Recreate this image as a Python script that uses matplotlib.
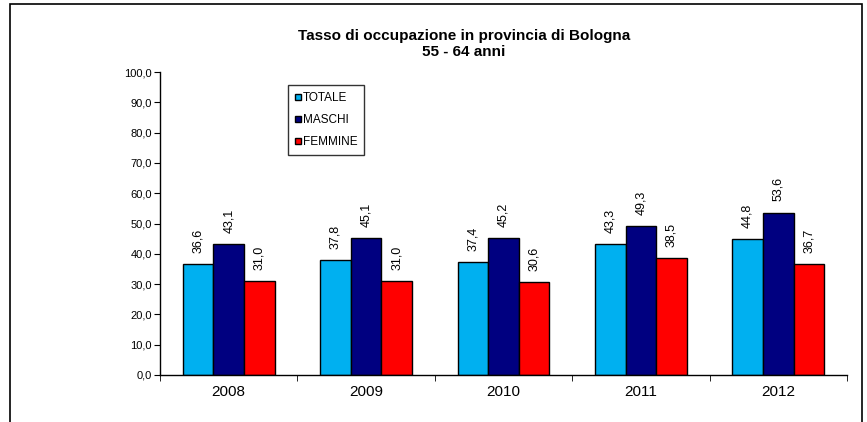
import matplotlib
matplotlib.use("Agg")
import matplotlib.pyplot as plt
from matplotlib.patches import Rectangle
import numpy as np

years = ["2008", "2009", "2010", "2011", "2012"]
totale = [36.6, 37.8, 37.4, 43.3, 44.8]
maschi = [43.1, 45.1, 45.2, 49.3, 53.6]
femmine = [31.0, 31.0, 30.6, 38.5, 36.7]
series_names = ["TOTALE", "MASCHI", "FEMMINE"]
colors = ["#00B0F0", "#000080", "#FF0000"]

plt.rcParams['font.family'] = ['Liberation Sans', 'DejaVu Sans']

W, H = 867, 422
fig = plt.figure(figsize=(W / 100, H / 100), dpi=100)

# outer frame of the chart area (bottom edge falls outside the image)
fig.patches.append(Rectangle((10 / W, -0.05), 852 / W, 1.05 - 4 / H,
                             transform=fig.transFigure, fill=False,
                             edgecolor='black', linewidth=1.2))

ax = fig.add_axes([160 / W, 1 - 375 / H, 687 / W, 303 / H])

x = np.arange(len(years))
bw = 0.223
for i, (vals, name, c) in enumerate(zip([totale, maschi, femmine], series_names, colors)):
    pos = x + (i - 1) * bw
    ax.bar(pos, vals, width=bw, color=c, edgecolor='black', linewidth=1, label=name)
    for xp, v in zip(pos, vals):
        ax.annotate(f"{v:.1f}".replace(".", ","), (xp, v), xytext=(0, 8),
                    textcoords='offset points', rotation=90, ha='center',
                    va='bottom', fontsize=9)

ax.set_xlim(-0.5, len(years) - 0.5)
ax.set_ylim(0, 100)
ax.set_yticks(np.arange(0, 101, 10))
ax.set_yticklabels([f"{v:.1f}".replace(".", ",") for v in np.arange(0, 101, 10)], fontsize=8)
ax.set_xticks(x)
ax.set_xticklabels(years, fontsize=11)
ax.set_xticks(np.arange(-0.5, len(years)), minor=True)
ax.tick_params(axis='x', which='major', length=0, pad=7)
ax.tick_params(axis='x', which='minor', length=4, direction='out')
ax.tick_params(axis='y', length=4, direction='out', pad=2)
ax.spines['top'].set_visible(False)
ax.spines['right'].set_visible(False)
ax.spines['left'].set_linewidth(1)
ax.spines['bottom'].set_linewidth(1)

leg = ax.legend(loc='upper left', bbox_to_anchor=(128 / 687, 1 - 13 / 303),
                fontsize=8.5, frameon=True, fancybox=False, edgecolor='black',
                handlelength=0.5, handleheight=0.5, handletextpad=0.15,
                labelspacing=0.85, borderpad=0.6, borderaxespad=0)
leg.get_frame().set_linewidth(1)

fig.text(464 / W, 1 - 36 / H, "Tasso di occupazione in provincia di Bologna",
         ha='center', va='center', fontsize=11, fontweight='bold')
fig.text(464 / W, 1 - 52 / H, "55 - 64 anni",
         ha='center', va='center', fontsize=11, fontweight='bold')

fig.savefig("out.png", dpi=100, facecolor='white')
